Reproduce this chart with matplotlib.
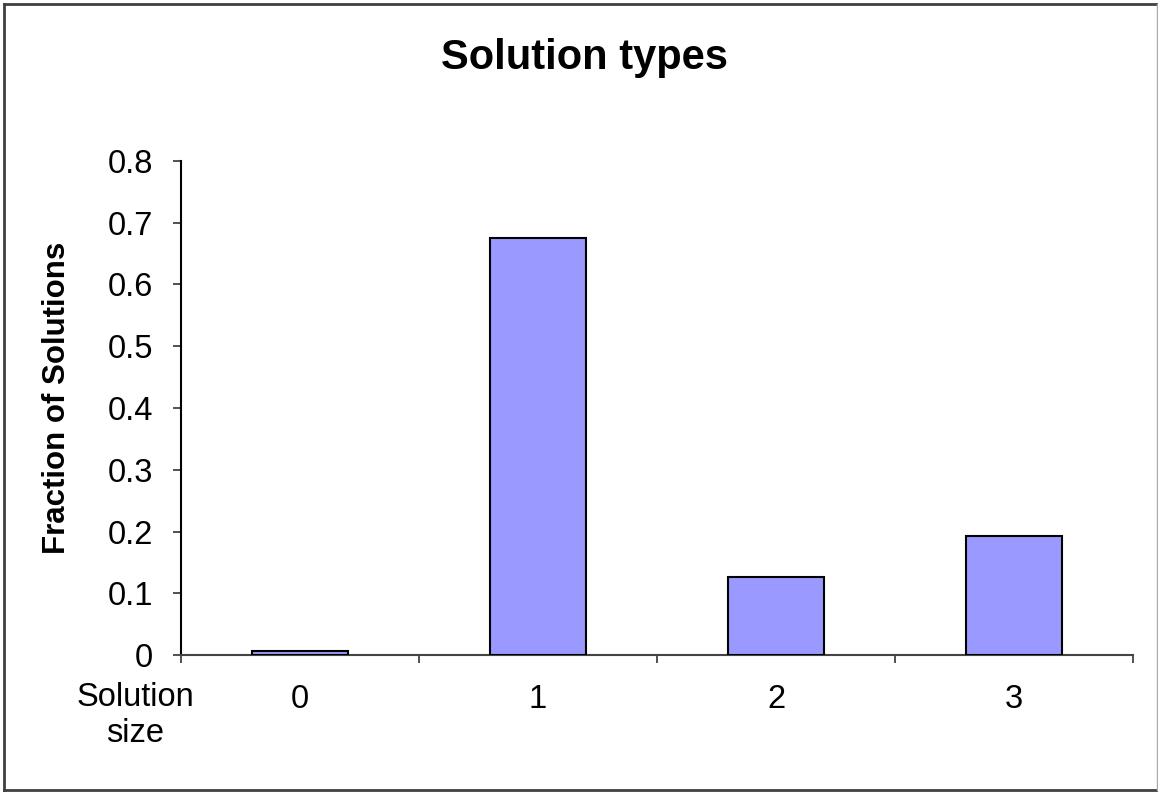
import matplotlib.pyplot as plt
from matplotlib.lines import Line2D

plt.rcParams['font.family'] = ['Liberation Sans', 'DejaVu Sans']

# fraction of solutions per solution size
sizes = ['0', '1', '2', '3']
fractions = [0.006, 0.676, 0.127, 0.193]
yticks = [0, 0.1, 0.2, 0.3, 0.4, 0.5, 0.6, 0.7, 0.8]
ylabels = ['0', '0.1', '0.2', '0.3', '0.4', '0.5', '0.6', '0.7', '0.8']

fig = plt.figure(figsize=(11.58, 7.93), dpi=100)
ax = fig.add_axes([0.1563, 0.174, 0.8221, 0.623])

pos = list(range(len(sizes)))
ax.bar(pos, fractions, width=0.4, color='#9999ff', edgecolor='black', linewidth=1.5, zorder=3)

ax.set_xlim(-0.5, 3.5)
ax.set_ylim(0, 0.8)

# category boundaries get the tick marks, centres get the labels
ax.set_xticks([-0.5, 0.5, 1.5, 2.5, 3.5])
ax.set_xticklabels([])
ax.set_xticks(pos, minor=True)
ax.set_xticklabels(sizes, minor=True, fontsize=23.5)
ax.tick_params(axis='x', which='major', direction='out', length=6, width=1.2, color='#333333')
ax.tick_params(axis='x', which='minor', length=0, pad=21)

ax.set_yticks(yticks)
ax.set_yticklabels(ylabels, fontsize=23.5)
ax.tick_params(axis='y', direction='out', length=6, width=1.2, color='#333333', pad=14)

for s in ['top', 'right']:
    ax.spines[s].set_visible(False)
ax.spines['left'].set_linewidth(1.5)
ax.spines['bottom'].set_linewidth(1.5)
ax.spines['bottom'].set_color('#444444')

ax.set_ylabel('Fraction of Solutions', fontsize=22.5, fontweight='bold', va='center')
ax.yaxis.set_label_coords(-0.130, 0.521)
fig.text(0.117, 0.098, 'Solution\nsize', fontsize=23.5, ha='center', va='center', linespacing=1.2)
fig.text(0.505, 0.927, 'Solution types', fontsize=30, fontweight='bold', ha='center', va='center')

# outer frame
x0, x1 = 3.5 / 1158, 1156.5 / 1158
y0, y1 = 1 - 789.5 / 793, 1 - 3.5 / 793
fig.add_artist(Line2D([x0, x0], [y0, y1], transform=fig.transFigure, color='#404040', lw=2))
fig.add_artist(Line2D([x0, x1], [y1, y1], transform=fig.transFigure, color='#404040', lw=2))
fig.add_artist(Line2D([x0, x1], [y0, y0], transform=fig.transFigure, color='#404040', lw=2))
fig.add_artist(Line2D([x1, x1], [y0, y1], transform=fig.transFigure, color='#aaaaaa', lw=1))

fig.savefig('out.png', dpi=100)
